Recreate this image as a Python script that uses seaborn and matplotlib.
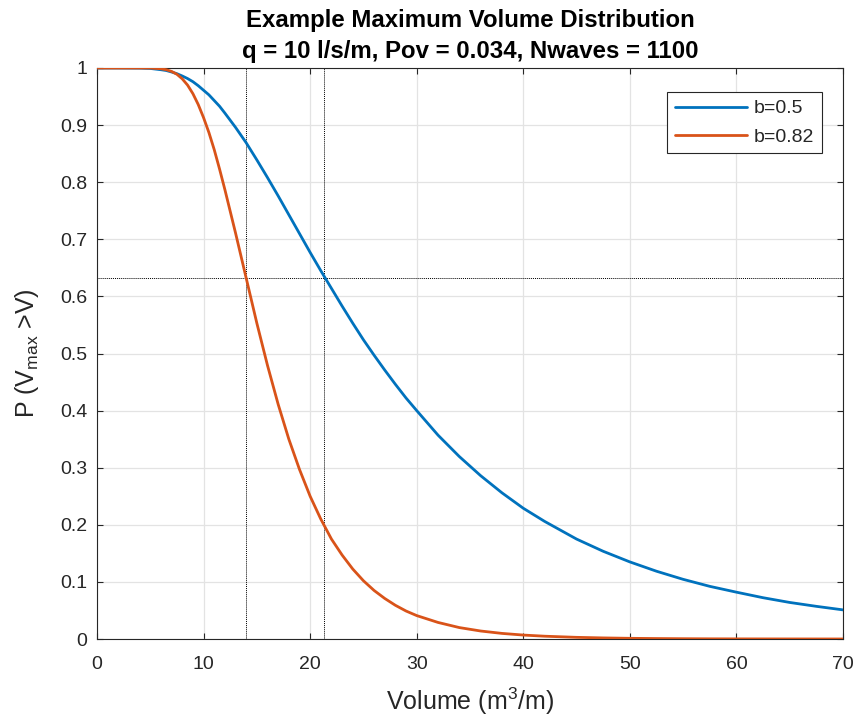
import matplotlib
matplotlib.use("Agg")
import matplotlib.pyplot as plt
import seaborn as sns
import pandas as pd

# Data
volume = [0, 2, 4, 5, 6, 6.5, 7, 7.5, 8, 8.5, 9, 9.5, 10, 10.5, 11, 11.5, 12, 13, 14,
          15, 16, 17, 18, 19, 20, 21, 22, 23, 24, 25, 26, 27, 28, 29, 30, 32, 34, 36,
          38, 40, 42, 45, 47.5, 50, 52.5, 55, 57.5, 60, 62.5, 65, 67.5, 70]
p_b05 = [1.0, 1.0, 0.9998, 0.9992, 0.997, 0.9956, 0.993, 0.990, 0.986, 0.9815, 0.976,
         0.969, 0.961, 0.953, 0.943, 0.933, 0.921, 0.896, 0.869, 0.839, 0.808, 0.776,
         0.743, 0.710, 0.677, 0.645, 0.614, 0.583, 0.553, 0.524, 0.497, 0.471, 0.446,
         0.422, 0.400, 0.357, 0.3195, 0.286, 0.256, 0.229, 0.206, 0.175, 0.1536, 0.135,
         0.1187, 0.1045, 0.0922, 0.082, 0.0723, 0.064, 0.0572, 0.051]
p_b082 = [1.0, 1.0, 1.0, 0.9999, 0.9987, 0.997, 0.994, 0.989, 0.981, 0.970, 0.955,
          0.936, 0.913, 0.887, 0.857, 0.823, 0.787, 0.711, 0.632, 0.553, 0.479, 0.411,
          0.350, 0.297, 0.250, 0.210, 0.175, 0.147, 0.1225, 0.102, 0.085, 0.071, 0.059,
          0.049, 0.041, 0.029, 0.020, 0.014, 0.0098, 0.0069, 0.0049, 0.0029, 0.0019,
          0.0012, 0.0008, 0.0005, 0.0003, 0.0002, 0.00015, 0.0001, 0.00006, 0.00004]
series_labels = ["b=0.5", "b=0.82"]
ref_level = [0.632]
ref_volumes = [14.0, 21.3]
x_ticks = [0, 10, 20, 30, 40, 50, 60, 70]
y_ticks = [0, 0.1, 0.2, 0.3, 0.4, 0.5, 0.6, 0.7, 0.8, 0.9, 1]
y_tick_labels = ["0", "0.1", "0.2", "0.3", "0.4", "0.5", "0.6", "0.7", "0.8", "0.9", "1"]
title = "Example Maximum Volume Distribution\nq = 10 l/s/m, Pov = 0.034, Nwaves = 1100"

sns.set_theme(style="white")
plt.rcParams["font.family"] = ["Liberation Sans", "DejaVu Sans"]
plt.rcParams["mathtext.default"] = "regular"

df = pd.DataFrame({
    "Volume": volume * 2,
    "P": p_b05 + p_b082,
    "series": [series_labels[0]] * len(volume) + [series_labels[1]] * len(volume),
})

fig = plt.figure(figsize=(8.58, 7.19), dpi=100)
ax = fig.add_axes([97 / 858, 1 - 639 / 719, (843 - 97) / 858, (639 - 68) / 719])

palette = {series_labels[0]: "#0072BD", series_labels[1]: "#D95319"}
sns.lineplot(data=df, x="Volume", y="P", hue="series", palette=palette,
             linewidth=2.0, ax=ax, legend=True, zorder=3)

for yv in ref_level:
    ax.axhline(yv, color="black", linestyle=(0, (1, 1)), linewidth=0.7, zorder=2)
for xv in ref_volumes:
    ax.axvline(xv, color="black", linestyle=(0, (1, 1)), linewidth=0.7, zorder=2)

ax.set_xlim(0, 70)
ax.set_ylim(0, 1)
ax.set_xticks(x_ticks)
ax.set_yticks(y_ticks)
ax.set_yticklabels(y_tick_labels)
ax.grid(True, color="#e3e3e3", linewidth=0.9, zorder=0)
ax.set_axisbelow(True)
ax.tick_params(direction="in", length=4, width=0.8, colors="#262626",
               labelsize=14, top=True, right=True, bottom=True, left=True,
               labeltop=False, labelright=False)
ax.tick_params(axis="x", pad=12)
ax.tick_params(axis="y", pad=7)
for sp in ax.spines.values():
    sp.set_visible(True)
    sp.set_color("#262626")
    sp.set_linewidth(0.8)

ax.set_xlabel("Volume (m$^3$/m)", fontsize=18, color="#262626", labelpad=9)
ax.set_ylabel("P (V$_{max}$ >V)", fontsize=18, color="#262626", labelpad=14)
ax.set_title(title, fontsize=17.3, fontweight="bold", color="black", pad=7,
             linespacing=1.45)

leg = ax.legend(loc="upper right", bbox_to_anchor=(0.9718, 0.958), fontsize=14,
                frameon=True, fancybox=False, edgecolor="#262626", framealpha=1,
                handlelength=3.7, borderpad=0.4, labelspacing=0.55, handletextpad=0.35,
                borderaxespad=0, title=None)
leg.get_frame().set_linewidth(0.8)

fig.savefig("out.png", dpi=100)
